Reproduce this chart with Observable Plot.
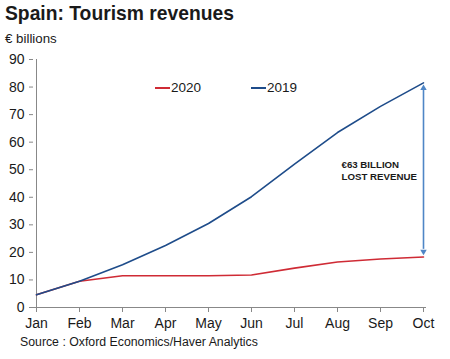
<!DOCTYPE html>
<html>
<head>
<meta charset="utf-8">
<script src="https://cdn.jsdelivr.net/npm/d3@7"></script>
<script src="https://cdn.jsdelivr.net/npm/@observablehq/plot@0.6"></script>
<style>
  body { margin: 0; background: #fff; font-family: "Liberation Sans", Arial, sans-serif; }
  #wrap { position: relative; width: 450px; height: 359px; overflow: hidden; }
  .abs { position: absolute; white-space: nowrap; color: #1a1a1a; }
  #title { left: 5px; top: 3px; font-size: 19.3px; font-weight: bold; }
  #sub { left: 5px; top: 31px; font-size: 13.3px; }
  #src { left: 20px; top: 335px; font-size: 12.3px; }
  .leg { top: 80px; font-size: 13.5px; display: flex; align-items: center; }
  .leg span.sw { display: inline-block; width: 15px; height: 2px; margin-right: 1px; }
</style>
</head>
<body>
<div id="wrap">
  <div id="chart"></div>
  <div class="abs" id="title">Spain: Tourism revenues</div>
  <div class="abs" id="sub">€ billions</div>
  <div class="abs leg" style="left:155px"><span class="sw" style="background:#cf2b35"></span>2020</div>
  <div class="abs leg" style="left:251px"><span class="sw" style="background:#1e4c8a"></span>2019</div>
  <div class="abs" id="src">Source : Oxford Economics/Haver Analytics</div>
</div>
<script>
const months = ["Jan","Feb","Mar","Apr","May","Jun","Jul","Aug","Sep","Oct"];
const rev2019 = [4.6, 9.5, 15.5, 22.5, 30.5, 40.2, 52.0, 63.5, 73.0, 81.5];
const rev2020 = [4.6, 9.5, 11.5, 11.5, 11.5, 11.8, 14.3, 16.5, 17.6, 18.3];
const yTicks = [0,10,20,30,40,50,60,70,80,90];
const annotationText = "€63 BILLION\nLOST REVENUE";
const arrowMonth = "Oct";
const arrowTop = 80.3;
const arrowBottom = 19.6;

const data2019 = months.map((m, i) => ({month: m, value: rev2019[i]}));
const data2020 = months.map((m, i) => ({month: m, value: rev2020[i]}));

const chart = Plot.plot({
  width: 450,
  height: 359,
  marginLeft: 33,
  marginRight: 24,
  marginTop: 59,
  marginBottom: 52,
  style: {fontFamily: "'Liberation Sans', Arial, sans-serif", fontSize: "14px", color: "#1a1a1a", background: "#fff"},
  x: {type: "point", domain: months, padding: 0},
  y: {domain: [0, 90]},
  marks: [
    Plot.axisY({ticks: yTicks, tickSize: 4, tickPadding: 5, label: null, stroke: "#888", fontSize: 14}),
    Plot.axisX({tickSize: 5, tickPadding: 6, label: null, stroke: "#888", fontSize: 14}),
    Plot.ruleX([months[0]], {stroke: "#888"}),
    Plot.ruleY([0], {stroke: "#888"}),
    Plot.line(data2020, {x: "month", y: "value", stroke: "#cf2b35", strokeWidth: 1.6}),
    Plot.line(data2019, {x: "month", y: "value", stroke: "#1e4c8a", strokeWidth: 1.6}),
    Plot.ruleX([arrowMonth], {y1: arrowTop - 1.5, y2: arrowBottom + 1.5, stroke: "#4f86c6", strokeWidth: 1.6}),
    Plot.dot([{x: arrowMonth, y: arrowTop}], {x: "x", y: "y", symbol: "triangle", r: 2.4, fill: "#4f86c6", dy: 2}),
    Plot.dot([{x: arrowMonth, y: arrowBottom}], {x: "x", y: "y", symbol: "triangle", r: 2.4, fill: "#4f86c6", rotate: 180, dy: -2}),
    Plot.text([annotationText], {x: () => "Aug", y: () => 50, text: d => d, dx: 4, textAnchor: "start", fontWeight: "bold", fontSize: 9.7, lineHeight: 1.25, fill: "#1a1a1a"})
  ]
});
document.getElementById("chart").appendChild(chart);
</script>
</body>
</html>
